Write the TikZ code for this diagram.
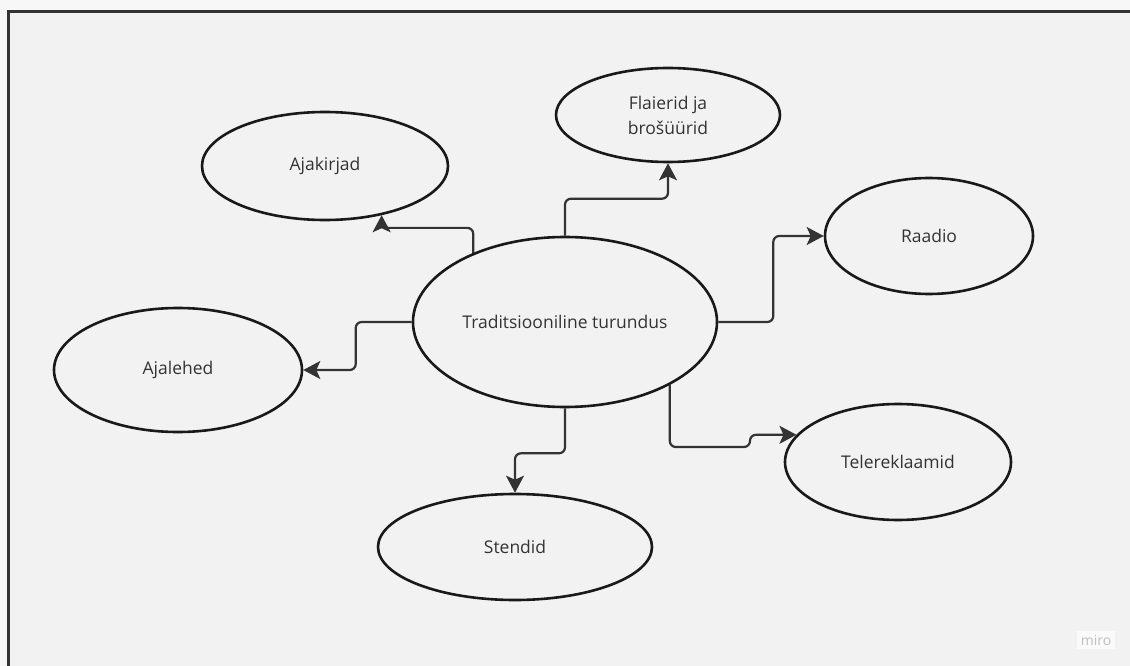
\documentclass[tikz,border=0pt]{standalone}
\usepackage{fontspec}
\setmainfont{Open Sans}
\usetikzlibrary{shapes.geometric,arrows.meta}
\definecolor{board}{HTML}{F2F2F2}
\definecolor{ink}{HTML}{333333}
\begin{document}
\begin{tikzpicture}[x=1pt,y=-1pt,
    bubble/.style={ellipse,draw=black!90,line width=2.6pt,inner sep=0pt,
      text=ink,align=center,font=\fontsize{17.5}{25}\selectfont},
    link/.style={ink,line width=2.2pt,rounded corners=6pt,
      -{Stealth[length=17pt,width=18pt,inset=4pt]}}]
  \useasboundingbox (0,0) rectangle (1130,666);
  \fill[white!97!black] (0,0) rectangle (1130,666);
  \draw[ink,line width=3pt,fill=board] (8.5,11.5) rectangle (1145,690);
  \node[bubble,minimum width=304pt,minimum height=170pt] (trad) at (565,322) {Traditsiooniline turundus};
  \node[bubble,minimum width=246pt,minimum height=108pt] (ajakirjad) at (325,166) {Ajakirjad};
  \node[bubble,minimum width=224pt,minimum height=94pt] (flaierid) at (668,115) {Flaierid ja\\brošüürid};
  \node[bubble,minimum width=208pt,minimum height=116pt] (raadio) at (929,236) {Raadio};
  \node[bubble,minimum width=248pt,minimum height=124pt] (ajalehed) at (178,370) {Ajalehed};
  \node[bubble,minimum width=226pt,minimum height=116pt] (tele) at (898,462) {Telereklaamid};
  \node[bubble,minimum width=274pt,minimum height=106pt] (stendid) at (515,547) {Stendid};
  \node[fill=white!60!board,text=black!25,inner sep=4pt,
    font=\fontsize{14}{16}\selectfont] (miro) at (1096,640) {miro};
  \begin{scope}[link]
    \draw (trad.143.6) -- ++(0,-25) -| (ajakirjad.-41);
    \draw (trad.north) -- ++(0,-37) -| (flaierid.south);
    \draw (trad.east) -- ++(55,0) |- (raadio.west);
    \draw (trad.west) -- ++(-56,0) |- (ajalehed.east);
    \draw (trad.south) -- ++(0,45) -| (stendid.north);
    \draw (trad.-31.7) |- (750,447) |- (tele.165);
  \end{scope}
\end{tikzpicture}
\end{document}
